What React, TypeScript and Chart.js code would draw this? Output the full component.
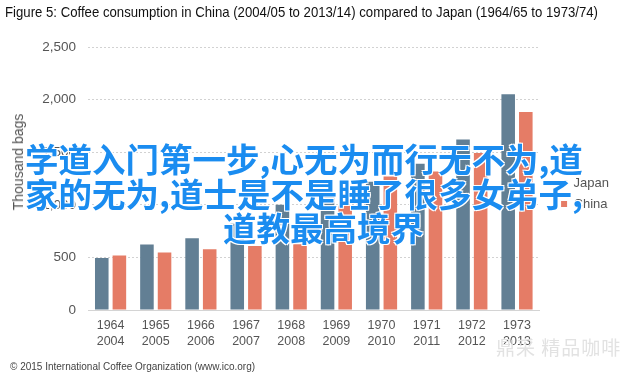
import React, { useEffect, useLayoutEffect, useRef } from "react";
import { Chart, registerables } from "chart.js";

Chart.register(...registerables);

const japanYears = ["1964", "1965", "1966", "1967", "1968", "1969", "1970", "1971", "1972", "1973"];
const chinaYears = ["2004", "2005", "2006", "2007", "2008", "2009", "2010", "2011", "2012", "2013"];
const seriesNames = ["Japan", "China"];
const japanValues = [495, 622, 683, 820, 1000, 1100, 1220, 1390, 1620, 2050];
const chinaValues = [517, 546, 578, 609, 625, 990, 1269, 1317, 1492, 1882];
const yMin = 0;
const yMax = 2500;
const yStep = 500;

const titleText = "Figure 5: Coffee consumption in China (2004/05 to 2013/14) compared to Japan (1964/65 to 1973/74)";
const axisTitle = "Thousand bags";
const sourceText = "© 2015 International Coffee Organization (www.ico.org)";
const overlayLines = ["学道入门第一步,心无为而行无不为,道", "家的无为,道士是不是睡了很多女弟子,", "道教最高境界"];
const watermarkText = "鼎采 精品咖啡";

const JAPAN_COLOR = "#627f94";
const CHINA_COLOR = "#e57c66";
const FONT = "'Liberation Sans', Arial, sans-serif";
const TITLE_WIDTH = 593;

export default function App() {
  const canvasRef = useRef<HTMLCanvasElement | null>(null);
  const titleRef = useRef<HTMLSpanElement | null>(null);

  useLayoutEffect(() => {
    const t = titleRef.current;
    if (!t) return;
    const w = t.getBoundingClientRect().width;
    if (w > 0) t.style.transform = `scaleX(${TITLE_WIDTH / w})`;
  }, []);

  useEffect(() => {
    const canvas = canvasRef.current;
    if (!canvas) return;
    const labels = japanYears.map((y, i) => [y, chinaYears[i]]);
    const chart = new Chart(canvas, {
      type: "bar",
      data: {
        labels,
        datasets: [
          {
            label: seriesNames[0],
            data: japanValues,
            backgroundColor: JAPAN_COLOR,
            borderWidth: 0,
            categoryPercentage: 0.78,
            barPercentage: 0.77,
            xAxisID: "x",
            yAxisID: "y",
          },
          {
            label: seriesNames[1],
            data: chinaValues,
            backgroundColor: CHINA_COLOR,
            borderWidth: 0,
            categoryPercentage: 0.78,
            barPercentage: 0.77,
            xAxisID: "x",
            yAxisID: "y",
          },
        ],
      },
      options: {
        responsive: false,
        animation: false,
        devicePixelRatio: 1,
        layout: { padding: { top: 35, bottom: 25, left: 0, right: 21 } },
        plugins: {
          tooltip: { enabled: false },
          title: { display: false },
          legend: {
            display: true,
            position: "right",
            align: "center",
            labels: {
              boxWidth: 6,
              boxHeight: 6,
              padding: 8,
              color: "#555555",
              font: { size: 13, family: FONT },
            },
          },
        },
        scales: {
          x: {
            grid: { display: false, drawTicks: false },
            border: { display: true, color: "#d4d4d4", width: 1 },
            ticks: {
              color: "#555555",
              font: { size: 12.5, family: FONT, lineHeight: 1.25 },
              padding: 8,
              maxRotation: 0,
              autoSkip: false,
            },
            afterFit: (s: any) => {
              s.height = 42;
            },
          },
          xT: {
            type: "linear",
            axis: "x",
            position: "top",
            display: true,
            grid: { display: false, drawTicks: false },
            border: { display: false },
            ticks: { display: false },
            afterFit: (s: any) => {
              s.height = 12;
            },
          },
          y: {
            min: yMin,
            max: yMax,
            ticks: {
              stepSize: yStep,
              color: "#555555",
              font: { size: 13.5, family: FONT },
              padding: 12,
            },
            grid: {
              drawTicks: false,
              color: (ctx: any) => (ctx.tick && ctx.tick.value === 0 ? "rgba(0,0,0,0)" : "#d2d2d2"),
              lineWidth: 1,
            },
            border: { display: false, dash: [2, 2] },
            afterFit: (s: any) => {
              s.width = 88;
            },
          },
          yR: {
            type: "linear",
            axis: "y",
            position: "right",
            display: true,
            grid: { display: false, drawTicks: false },
            border: { display: false },
            ticks: { display: false },
            afterFit: (s: any) => {
              s.width = 13.5;
            },
          },
        },
      } as any,
    });
    return () => chart.destroy();
  }, []);

  const lineStyle: React.CSSProperties = {
    position: "absolute",
    whiteSpace: "nowrap",
    fontFamily: "'Noto Sans CJK SC', sans-serif",
    fontWeight: 700,
    fontSize: "33.5px",
    lineHeight: "33.5px",
    color: "#1a8cf0",
    textShadow: "-1px -1px 0 #fff, 1px -1px 0 #fff, -1px 1px 0 #fff, 1px 1px 0 #fff",
  };

  return (
    <div
      style={{
        position: "fixed",
        left: 0,
        top: 0,
        width: 640,
        height: 377,
        background: "#ffffff",
        overflow: "hidden",
      }}
    >
      <canvas ref={canvasRef} width={640} height={377} style={{ position: "absolute", left: 0, top: 0, width: 640, height: 377 }} />
      <span
        ref={titleRef}
        style={{
          position: "absolute",
          left: 5,
          top: 3,
          whiteSpace: "nowrap",
          transformOrigin: "0 0",
          fontFamily: FONT,
          fontSize: "15px",
          color: "#111",
        }}
      >
        {titleText}
      </span>
      <div
        style={{
          position: "absolute",
          left: 18,
          top: 162,
          transform: "translate(-50%, -50%) rotate(-90deg)",
          whiteSpace: "nowrap",
          fontFamily: FONT,
          fontSize: "14px",
          color: "#555555",
        }}
      >
        {axisTitle}
      </div>
      <div
        style={{
          position: "absolute",
          left: 10,
          top: 361,
          whiteSpace: "nowrap",
          fontFamily: FONT,
          fontSize: "10px",
          color: "#444",
        }}
      >
        {sourceText}
      </div>
      <div
        style={{
          position: "absolute",
          left: 496,
          top: 333,
          whiteSpace: "nowrap",
          fontFamily: "'Noto Sans CJK SC', sans-serif",
          fontSize: "19px",
          letterSpacing: "1px",
          color: "#e2e2e2",
        }}
      >
        {watermarkText}
      </div>
      <div style={{ ...lineStyle, left: 25, top: 141 }}>{overlayLines[0]}</div>
      <div style={{ ...lineStyle, left: 25, top: 176 }}>{overlayLines[1]}</div>
      <div style={{ ...lineStyle, left: 223, top: 210 }}>{overlayLines[2]}</div>
    </div>
  );
}
